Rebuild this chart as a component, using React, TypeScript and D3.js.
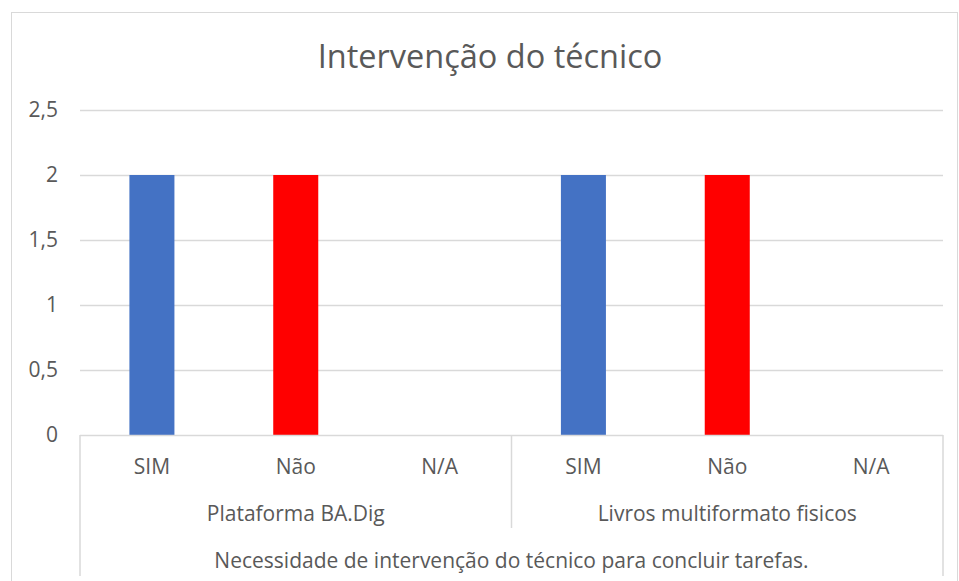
import React, { useEffect, useRef } from "react";
import * as d3 from "d3";

const title = "Intervenção do técnico";
const groups = ["Plataforma BA.Dig", "Livros multiformato fisicos"];
const answers = ["SIM", "Não", "N/A"];
const axisTitle = "Necessidade de intervenção do técnico para concluir tarefas.";
// one value per (group, answer), in that order
const values = [2, 2, 0, 2, 2, 0];
const answerColors = ["#4472C4", "#FF0000", "#A5A5A5"];
const yTicks = [0, 0.5, 1, 1.5, 2, 2.5];

const App = () => {
  const chartRef = useRef<HTMLDivElement>(null);

  useEffect(() => {
    drawChart();
  }, []);

  const drawChart = () => {
    d3.select(chartRef.current).select("svg").remove();

    const width = 959;
    const height = 581;
    const plot = { left: 80, right: 943, top: 110, bottom: 435 };
    const font = "'Open Sans', sans-serif";
    const textColor = "#595959";
    const lineColor = "#d9d9d9";

    const svg = d3
      .select(chartRef.current)
      .append("svg")
      .attr("width", width)
      .attr("height", height)
      .style("display", "block");

    svg.append("rect").attr("width", width).attr("height", height).attr("fill", "#fff");

    // chart border (runs off the bottom)
    svg
      .append("rect")
      .attr("x", 11.5)
      .attr("y", 12.5)
      .attr("width", 946)
      .attr("height", 600)
      .attr("fill", "none")
      .attr("stroke", lineColor);

    svg
      .append("text")
      .attr("x", 490)
      .attr("y", 68)
      .attr("text-anchor", "middle")
      .style("font-family", font)
      .style("font-size", "32.5px")
      .style("fill", textColor)
      .text(title);

    const rows = groups.flatMap((g, gi) =>
      answers.map((a, ai) => ({ group: g, answer: a, ai, key: `${gi}-${ai}`, value: values[gi * answers.length + ai] }))
    );

    const x = d3
      .scaleBand()
      .domain(rows.map((d) => d.key))
      .range([plot.left, plot.right]);

    const y = d3.scaleLinear().domain([0, 2.5]).range([plot.bottom, plot.top]);

    // gridlines
    svg
      .append("g")
      .selectAll("line")
      .data(yTicks.filter((t) => t > 0))
      .enter()
      .append("line")
      .attr("x1", plot.left)
      .attr("x2", plot.right)
      .attr("y1", (d) => Math.round(y(d)) + 0.5)
      .attr("y2", (d) => Math.round(y(d)) + 0.5)
      .attr("stroke", lineColor)
      .attr("stroke-width", 1.5);

    // y labels
    svg
      .append("g")
      .selectAll("text")
      .data(yTicks)
      .enter()
      .append("text")
      .attr("x", 58)
      .attr("y", (d) => y(d) + 7)
      .attr("text-anchor", "end")
      .style("font-family", font)
      .style("font-size", "21px")
      .style("fill", textColor)
      .text((d) => d3.format("")(d).replace(".", ","));

    // bars
    const barWidth = x.bandwidth() * 0.313;
    svg
      .append("g")
      .selectAll("rect")
      .data(rows)
      .enter()
      .append("rect")
      .attr("x", (d) => x(d.key)! + (x.bandwidth() - barWidth) / 2)
      .attr("width", barWidth)
      .attr("y", (d) => y(d.value))
      .attr("height", (d) => y(0) - y(d.value))
      .attr("fill", (d) => answerColors[d.ai]);

    // category axis line and separators
    const axis = svg.append("g").attr("stroke", lineColor).attr("stroke-width", 1.5);
    axis
      .append("line")
      .attr("x1", plot.left)
      .attr("x2", plot.right)
      .attr("y1", plot.bottom + 0.5)
      .attr("y2", plot.bottom + 0.5);
    axis
      .append("line")
      .attr("x1", plot.left)
      .attr("x2", plot.left)
      .attr("y1", plot.bottom)
      .attr("y2", 576);
    axis
      .append("line")
      .attr("x1", plot.right)
      .attr("x2", plot.right)
      .attr("y1", plot.bottom)
      .attr("y2", 576);
    groups.slice(1).forEach((g, i) => {
      const sx = x(`${i + 1}-0`)!;
      axis
        .append("line")
        .attr("x1", sx)
        .attr("x2", sx)
        .attr("y1", plot.bottom)
        .attr("y2", 528);
    });

    const labelStyle = (sel: any) =>
      sel
        .attr("text-anchor", "middle")
        .style("font-family", font)
        .style("font-size", "21px")
        .style("fill", textColor);

    // answer labels
    svg
      .append("g")
      .selectAll("text")
      .data(rows)
      .enter()
      .append("text")
      .attr("x", (d) => x(d.key)! + x.bandwidth() / 2)
      .attr("y", 474)
      .call(labelStyle)
      .text((d) => d.answer);

    // group labels
    const groupWidth = x.step() * answers.length;
    svg
      .append("g")
      .selectAll("text")
      .data(groups)
      .enter()
      .append("text")
      .attr("x", (d, i) => plot.left + groupWidth * i + groupWidth / 2)
      .attr("y", 521)
      .call(labelStyle)
      .text((d) => d);

    svg
      .append("text")
      .attr("x", (plot.left + plot.right) / 2)
      .attr("y", 568)
      .call(labelStyle)
      .text(axisTitle);
  };

  return (
    <div style={{ position: "absolute", left: 0, top: 0 }}>
      <div ref={chartRef} />
    </div>
  );
};

export default App;
